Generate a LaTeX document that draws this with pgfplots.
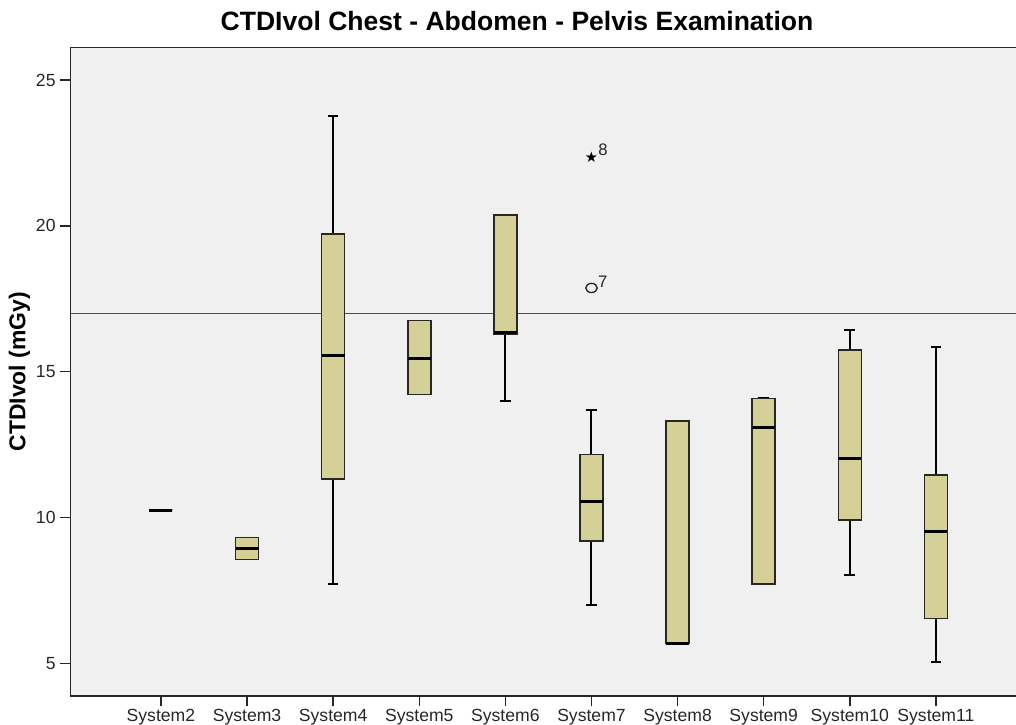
\documentclass[border=0pt]{standalone}
\usepackage{fontspec}
\setmainfont{Liberation Sans}
\newfontfamily\symfont{DejaVu Sans}
\usepackage{pgfplots}
\pgfplotsset{compat=1.18}
\usepgfplotslibrary{statistics}
\definecolor{bgc}{RGB}{240,240,240}
\definecolor{boxc}{RGB}{212,208,152}
\definecolor{edgec}{RGB}{40,40,30}
\pgfplotsset{
  mybox/.style={solid, draw=black, fill=boxc, line width=1.2pt,
    boxplot/draw direction=y,
    boxplot/box extend=0.267, boxplot/whisker extend=0.124,
    boxplot/every box/.style={draw=edgec, fill=boxc, line width=1.2pt},
    boxplot/every whisker/.style={draw=black, line width=1.5pt},
    boxplot/every median/.style={draw=black, line width=2.3pt}},
}
\begin{document}
\begin{tikzpicture}
\useasboundingbox (-52.7pt,-21pt) rectangle (709.3pt,522pt);
\begin{axis}[
  scale only axis, width=709.3pt, height=486.5pt,
  xmin=-1.053, xmax=9.93, ymin=3.88, ymax=26.12,
  axis background/.style={fill=bgc},
  axis x line*=box, axis y line*=left,
  axis line style={draw=black!85, line width=1.1pt},
  tick pos=left, tick align=outside, major tick length=7.5pt,
  tick style={draw=black!85, line width=1.1pt},
  xtick={0,...,9},
  xticklabels={System2,System3,System4,System5,System6,System7,System8,System9,System10,System11},
  ytick={5,10,15,20,25},
  /pgf/number format/assume math mode=true,
  tick label style={font=\fontsize{13.2pt}{15pt}\selectfont, text=black!85},
  xticklabel style={yshift=1.5pt},
  yticklabel style={xshift=0pt},
  title={CTDIvol Chest - Abdomen - Pelvis Examination},
  title style={at={(0.4724,1)}, anchor=base, yshift=6.5pt, font=\fontsize{19.9pt}{22pt}\selectfont\bfseries},
  ylabel={CTDIvol (mGy)},
  ylabel style={at={(-0.0537,0.5)}, anchor=center, font=\fontsize{17.2pt}{19pt}\selectfont\bfseries},
  clip=true,
]
% reference line at 17
\addplot[draw=black!70, line width=0.8pt, mark=none] coordinates {(-1.053,17) (9.93,17)};
% System2
\addplot+[mybox, mark=none, boxplot prepared={draw position=0, lower whisker=10.25, lower quartile=10.25, median=10.25, upper quartile=10.25, upper whisker=10.25}] coordinates {};
% System3
\addplot+[mybox, mark=none, boxplot prepared={draw position=1, lower whisker=8.56, lower quartile=8.56, median=8.94, upper quartile=9.31, upper whisker=9.31}] coordinates {};
% System4
\addplot+[mybox, mark=none, boxplot prepared={draw position=2, lower whisker=7.71, lower quartile=11.33, median=15.55, upper quartile=19.71, upper whisker=23.76}] coordinates {};
% System5
\addplot+[mybox, mark=none, boxplot prepared={draw position=3, lower whisker=14.22, lower quartile=14.22, median=15.45, upper quartile=16.75, upper whisker=16.75}] coordinates {};
% System6
\addplot+[mybox, mark=none, boxplot prepared={draw position=4, lower whisker=13.99, lower quartile=16.28, median=16.33, upper quartile=20.38, upper whisker=20.38}] coordinates {};
% System7
\addplot+[mybox, mark=none, boxplot prepared={draw position=5, lower whisker=7.01, lower quartile=9.2, median=10.54, upper quartile=12.16, upper whisker=13.67}] coordinates {};
% System8
\addplot+[mybox, mark=none, boxplot prepared={draw position=6, lower whisker=5.69, lower quartile=5.69, median=5.69, upper quartile=13.31, upper whisker=13.31}] coordinates {};
% System9
\addplot+[mybox, mark=none, boxplot prepared={draw position=7, lower whisker=7.71, lower quartile=7.71, median=13.1, upper quartile=14.08, upper whisker=14.08}] coordinates {};
% System10
\addplot+[mybox, mark=none, boxplot prepared={draw position=8, lower whisker=8.02, lower quartile=9.92, median=12.03, upper quartile=15.74, upper whisker=16.43}] coordinates {};
% System11
\addplot+[mybox, mark=none, boxplot prepared={draw position=9, lower whisker=5.06, lower quartile=6.54, median=9.52, upper quartile=11.46, upper whisker=15.85}] coordinates {};
% outliers
\addplot[only marks, mark=o, mark size=4.3pt, mark options={draw=black!85, line width=1pt, yscale=0.8},
  nodes near coords, point meta=explicit symbolic,
  every node near coord/.append style={anchor=south west, inner sep=0pt, xshift=4.5pt, yshift=0pt, font=\fontsize{12.5pt}{14pt}\selectfont, text=black!85}]
  coordinates {(5,17.87)[7]};
\addplot[only marks, black, mark=text, text mark={\symfont\fontsize{11pt}{12pt}\selectfont ★},
  nodes near coords, point meta=explicit symbolic,
  every node near coord/.append style={anchor=south west, inner sep=0pt, xshift=5pt, yshift=1.5pt, font=\fontsize{12.5pt}{14pt}\selectfont, text=black!85}]
  coordinates {(5,22.34)[8]};
\end{axis}
\end{tikzpicture}
\end{document}
